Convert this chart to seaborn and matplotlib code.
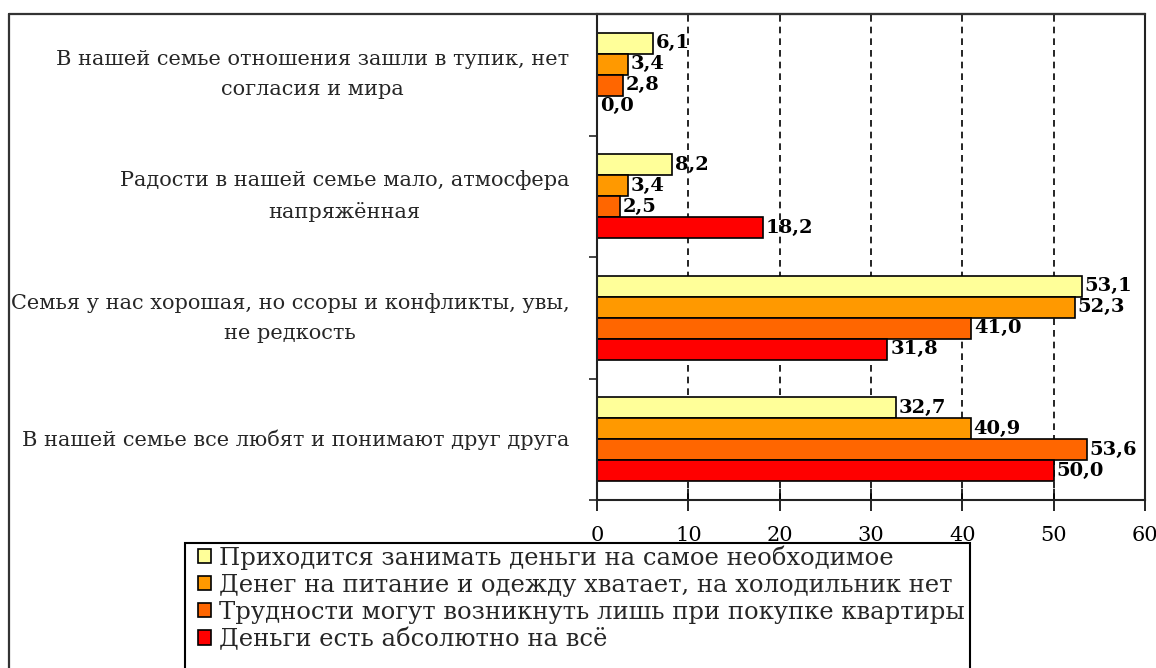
import seaborn as sns
import matplotlib.pyplot as plt
import pandas as pd
from matplotlib.lines import Line2D
from matplotlib.patches import Rectangle

# data
categories = [
    "В нашей семье отношения зашли в тупик, нет\nсогласия и мира",
    "Радости в нашей семье мало, атмосфера\nнапряжённая",
    "Семья у нас хорошая, но ссоры и конфликты, увы,\nне редкость",
    "В нашей семье все любят и понимают друг друга",
]
series = [
    "Приходится занимать деньги на самое необходимое",
    "Денег на питание и одежду хватает, на холодильник нет",
    "Трудности могут возникнуть лишь при покупке квартиры",
    "Деньги есть абсолютно на всё",
]
borrow = [6.1, 8.2, 53.1, 32.7]
food_ok = [3.4, 3.4, 52.3, 40.9]
flat_only = [2.8, 2.5, 41.0, 53.6]
all_ok = [0.0, 18.2, 31.8, 50.0]
colors = ["#FFFF99", "#FF9900", "#FF6600", "#FF0000"]

rows = []
for s, vals in zip(series, [borrow, food_ok, flat_only, all_ok]):
    for c, v in zip(categories, vals):
        rows.append({"category": c, "series": s, "value": v})
df = pd.DataFrame(rows)

sns.set_theme(style="white")
plt.rcParams['font.family'] = ['DejaVu Serif', 'Liberation Serif']

W, H = 1156, 668
fig = plt.figure(figsize=(W / 100, H / 100), dpi=100)
ax = fig.add_axes([597 / W, 1 - 500 / H, (1145 - 597) / W, (500 - 14) / H])

sns.barplot(data=df, y="category", x="value", hue="series", orient="h",
            order=categories, hue_order=series, palette=colors, saturation=1,
            width=0.69, edgecolor="black", linewidth=1.2, errorbar=None, ax=ax)

for cont in ax.containers:
    vals = [r.get_width() for r in cont]
    ax.bar_label(cont, labels=[f"{v:.1f}".replace(".", ",") for v in vals],
                 padding=2, fontsize=14, fontweight="bold", color="black")

ax.set_xlim(0, 60)
ax.set_ylim(3.5, -0.5)
ax.set_xticks(range(0, 61, 10))
ax.set_xlabel("")
ax.set_ylabel("")
ax.xaxis.grid(True, linestyle=(0, (4, 3)), color="black", linewidth=1.2)
ax.set_axisbelow(True)

for side in ["left", "bottom", "right", "top"]:
    ax.spines[side].set_visible(True)
    ax.spines[side].set_color("#222222")
    ax.spines[side].set_linewidth(1.5)

ax.tick_params(axis="x", direction="inout", length=16, width=1.2, pad=11,
               labelsize=15, colors="black", bottom=True)
ax.tick_params(axis="y", which="major", length=0, pad=20, labelsize=15)
ax.set_yticks([-0.5, 0.5, 1.5, 2.5, 3.5], minor=True)
ax.tick_params(axis="y", which="minor", left=True, direction="out", length=6, width=1.2)
for lbl in ax.get_yticklabels():
    lbl.set_multialignment("center")
    lbl.set_linespacing(1.75)
    lbl.set_verticalalignment("center")

# outer frame (top and left)
fig.add_artist(Line2D([9 / W, 1145 / W], [1 - 14 / H, 1 - 14 / H], color="#333333", lw=1.6))
fig.add_artist(Line2D([9 / W, 9 / W], [1 - 14 / H, 0], color="#333333", lw=1.6))

# legend box (runs past the bottom edge, as in the original)
fig.add_artist(Rectangle((185 / W, -0.05), (970 - 185) / W, 1 - 543 / H + 0.05,
                         transform=fig.transFigure, facecolor="white",
                         edgecolor="black", linewidth=1.5, zorder=5))

handles, labels = ax.get_legend_handles_labels()
ax.legend_.remove()
leg = fig.legend(handles, labels, loc="upper left",
                 bbox_to_anchor=(198 / W, 1 - 545 / H),
                 frameon=False, fontsize=17.5, handlelength=0.55, handleheight=0.55,
                 handletextpad=0.3, labelspacing=0.17, borderpad=0, borderaxespad=0)
leg.set_zorder(6)

fig.savefig("out.png", dpi=100)
